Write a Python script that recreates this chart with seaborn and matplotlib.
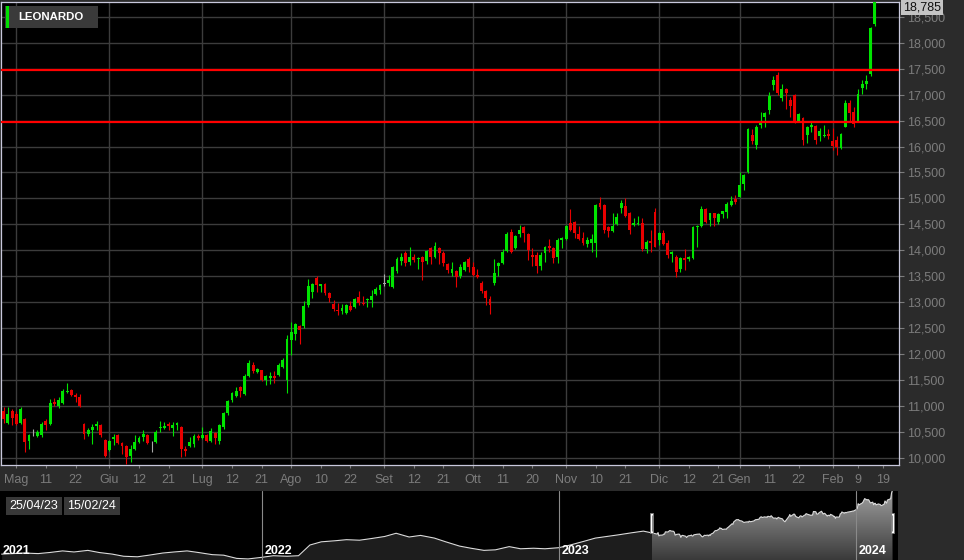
import numpy as np
import pandas as pd
import matplotlib
matplotlib.use("Agg")
import matplotlib.pyplot as plt
import matplotlib.dates as mdates
from matplotlib.patches import Rectangle
from matplotlib.colors import LinearSegmentedColormap
import seaborn as sns

# --- daily OHLC, Leonardo, 25/04/23 .. 15/02/24 ---
opens = [
    11.12, 10.91, 10.67, 10.91, 10.85, 10.67, 10.76, 10.32, 10.46, 10.43,
    10.44, 10.72, 10.65, 11.07, 11.00, 11.06, 11.28, 11.31, 11.21, 11.18,
    10.65, 10.46, 10.54, 10.61, 10.64, 10.35, 10.16, 10.37, 10.45, 10.28,
    10.24, 10.03, 10.17, 10.30, 10.41, 10.45, 10.32, 10.30, 10.57, 10.57,
    10.65, 10.58, 10.63, 10.60, 10.18, 10.24, 10.27, 10.43, 10.38, 10.45,
    10.32, 10.49, 10.33, 10.59, 10.87, 11.11, 11.19, 11.36, 11.23, 11.58,
    11.79, 11.66, 11.69, 11.51, 11.55, 11.58, 11.60, 11.76, 11.51, 12.28,
    12.38, 12.54, 12.54, 12.94, 13.20, 13.47, 13.31, 13.36, 13.18, 12.97,
    12.86, 12.83, 12.80, 12.92, 12.90, 13.11, 12.99, 13.04, 13.04, 13.16,
    13.23, 13.35, 13.38, 13.30, 13.61, 13.79, 13.95, 13.77, 13.87, 13.83,
    13.87, 13.79, 14.05, 13.87, 14.05, 13.95, 13.74, 13.56, 13.60, 13.51,
    13.62, 13.83, 13.67, 13.53, 13.38, 13.22, 13.06, 13.38, 13.70, 13.76,
    13.99, 14.36, 14.04, 14.31, 14.44, 14.31, 13.91, 13.91, 13.69, 13.94,
    14.08, 14.04, 13.87, 14.19, 14.21, 14.52, 14.55, 14.31, 14.23, 14.12,
    14.15, 14.15, 14.92, 14.87, 14.44, 14.38, 14.51, 14.81, 14.85, 14.71,
    14.49, 14.50, 14.52, 14.02, 14.18, 14.74, 14.20, 14.33, 14.15, 13.93,
    13.88, 13.65, 13.85, 13.83, 13.85, 14.44, 14.47, 14.79, 14.58, 14.71,
    14.55, 14.70, 14.74, 14.87, 14.98, 15.03, 15.28, 15.51, 16.22, 16.03,
    16.41, 16.56, 16.71, 17.18, 17.37, 16.94, 17.10, 16.89, 16.99, 16.49,
    16.54, 16.22, 16.37, 16.40, 16.20, 16.20, 16.24, 16.11, 16.13, 15.98,
    16.38, 16.84, 16.67, 16.49, 17.13, 17.21, 17.40, 18.35,
]
highs = [
    11.13, 10.99, 10.99, 10.94, 10.91, 10.99, 10.78, 10.46, 10.56, 10.53,
    10.70, 10.75, 11.13, 11.15, 11.17, 11.33, 11.45, 11.33, 11.26, 11.24,
    10.67, 10.58, 10.65, 10.72, 10.65, 10.37, 10.35, 10.46, 10.47, 10.30,
    10.25, 10.26, 10.45, 10.43, 10.53, 10.46, 10.33, 10.53, 10.72, 10.70,
    10.70, 10.69, 10.69, 10.62, 10.23, 10.41, 10.46, 10.46, 10.60, 10.46,
    10.58, 10.51, 10.65, 10.88, 11.12, 11.28, 11.37, 11.38, 11.62, 11.88,
    11.85, 11.74, 11.70, 11.60, 11.66, 11.67, 11.83, 11.92, 12.37, 12.62,
    12.60, 12.56, 13.03, 13.44, 13.37, 13.50, 13.36, 13.37, 13.19, 13.05,
    12.99, 12.97, 12.97, 13.03, 13.09, 13.21, 13.13, 13.08, 13.24, 13.30,
    13.36, 13.54, 13.53, 13.70, 13.87, 13.95, 13.98, 14.06, 13.92, 13.88,
    13.90, 14.00, 14.06, 14.17, 14.06, 13.98, 13.75, 13.77, 13.62, 13.74,
    13.80, 13.87, 13.78, 13.65, 13.40, 13.24, 13.12, 13.83, 13.78, 14.02,
    14.36, 14.42, 14.30, 14.49, 14.46, 14.33, 14.04, 13.96, 13.96, 14.08,
    14.21, 14.06, 14.23, 14.26, 14.49, 14.79, 14.56, 14.46, 14.36, 14.25,
    14.31, 14.89, 15.02, 14.89, 14.47, 14.72, 14.71, 14.96, 15.00, 14.74,
    14.63, 14.66, 14.62, 14.19, 14.39, 14.81, 14.36, 14.40, 14.19, 13.99,
    13.91, 13.87, 14.02, 13.89, 14.46, 14.49, 14.85, 14.81, 14.72, 14.72,
    14.71, 14.76, 14.94, 15.04, 15.06, 15.51, 15.48, 16.35, 16.33, 16.41,
    16.67, 16.67, 17.05, 17.35, 17.44, 17.20, 17.13, 16.96, 17.01, 16.65,
    16.57, 16.39, 16.47, 16.41, 16.35, 16.41, 16.33, 16.35, 16.20, 16.26,
    16.90, 16.89, 16.76, 17.10, 17.28, 17.37, 18.30, 18.80,
]
lows = [
    10.85, 10.67, 10.65, 10.64, 10.63, 10.65, 10.11, 10.17, 10.43, 10.40,
    10.40, 10.54, 10.63, 11.01, 10.96, 11.04, 11.26, 11.20, 11.07, 10.98,
    10.37, 10.43, 10.27, 10.54, 10.41, 10.01, 10.14, 10.26, 10.27, 10.08,
    9.88, 9.92, 10.15, 10.29, 10.33, 10.27, 10.11, 10.28, 10.51, 10.56,
    10.54, 10.43, 10.54, 10.01, 10.03, 10.22, 10.22, 10.34, 10.36, 10.30,
    10.30, 10.27, 10.27, 10.56, 10.82, 11.08, 11.17, 11.18, 11.21, 11.56,
    11.63, 11.63, 11.49, 11.40, 11.42, 11.44, 11.58, 11.74, 11.26, 11.99,
    12.27, 12.19, 12.51, 12.91, 13.09, 13.20, 13.20, 13.14, 13.00, 12.83,
    12.76, 12.77, 12.77, 12.83, 12.89, 12.95, 12.94, 12.90, 12.91, 13.14,
    13.15, 13.32, 13.32, 13.27, 13.56, 13.72, 13.70, 13.72, 13.77, 13.64,
    13.43, 13.74, 13.74, 13.85, 13.74, 13.70, 13.56, 13.50, 13.29, 13.46,
    13.60, 13.59, 13.51, 13.46, 13.17, 12.95, 12.78, 13.33, 13.51, 13.74,
    13.96, 13.94, 14.02, 14.26, 14.17, 13.81, 13.70, 13.57, 13.63, 13.78,
    13.97, 13.76, 13.75, 14.04, 14.20, 14.38, 14.23, 14.19, 14.10, 14.06,
    13.97, 13.87, 14.79, 14.34, 14.25, 14.36, 14.49, 14.71, 14.65, 14.31,
    14.47, 14.49, 13.99, 13.94, 13.97, 14.06, 14.10, 14.10, 13.85, 13.78,
    13.48, 13.59, 13.63, 13.80, 13.83, 14.07, 14.44, 14.53, 14.47, 14.47,
    14.50, 14.63, 14.63, 14.85, 14.89, 15.02, 15.17, 15.49, 16.05, 15.96,
    16.35, 16.37, 16.62, 17.08, 16.99, 16.88, 16.73, 16.57, 16.46, 16.47,
    16.03, 16.07, 16.28, 16.04, 16.11, 16.19, 16.15, 15.93, 15.83, 15.96,
    16.37, 16.47, 16.38, 16.47, 17.02, 17.10, 17.36, 18.33,
]
closes = [
    10.88, 10.76, 10.85, 10.78, 10.65, 10.94, 10.31, 10.44, 10.46, 10.50,
    10.65, 10.63, 11.06, 11.04, 11.12, 11.29, 11.30, 11.22, 11.17, 11.01,
    10.46, 10.54, 10.60, 10.65, 10.44, 10.03, 10.33, 10.41, 10.28, 10.24,
    10.01, 10.17, 10.31, 10.38, 10.47, 10.28, 10.32, 10.51, 10.59, 10.62,
    10.62, 10.64, 10.67, 10.17, 10.14, 10.30, 10.43, 10.39, 10.45, 10.32,
    10.52, 10.38, 10.63, 10.87, 11.10, 11.26, 11.30, 11.29, 11.58, 11.83,
    11.68, 11.72, 11.51, 11.58, 11.58, 11.55, 11.79, 11.88, 12.30, 12.43,
    12.58, 12.47, 12.92, 13.31, 13.35, 13.33, 13.35, 13.18, 13.09, 12.87,
    12.83, 12.88, 12.94, 12.86, 13.07, 12.99, 12.96, 13.07, 13.12, 13.26,
    13.34, 13.35, 13.43, 13.68, 13.83, 13.88, 13.75, 13.87, 13.81, 13.86,
    13.77, 13.98, 13.87, 14.09, 13.94, 13.75, 13.63, 13.65, 13.48, 13.67,
    13.78, 13.67, 13.53, 13.48, 13.22, 13.09, 12.95, 13.56, 13.76, 13.97,
    14.31, 13.96, 14.28, 14.40, 14.34, 14.01, 13.88, 13.69, 13.91, 14.06,
    14.04, 13.85, 14.19, 14.23, 14.47, 14.40, 14.34, 14.21, 14.15, 14.20,
    14.21, 14.87, 14.83, 14.40, 14.38, 14.46, 14.65, 14.92, 14.67, 14.39,
    14.52, 14.53, 14.02, 14.17, 14.15, 14.07, 14.34, 14.13, 13.91, 13.97,
    13.59, 13.85, 13.82, 13.87, 14.44, 14.47, 14.79, 14.55, 14.71, 14.62,
    14.70, 14.75, 14.89, 14.95, 14.94, 15.26, 15.45, 16.33, 16.11, 16.38,
    16.46, 16.65, 16.97, 17.28, 17.03, 17.10, 17.04, 16.78, 16.47, 16.62,
    16.13, 16.37, 16.41, 16.12, 16.29, 16.23, 16.20, 16.01, 15.99, 16.25,
    16.84, 16.65, 16.44, 17.01, 17.21, 17.26, 18.28, 18.785,
]

market_holidays = ["2023-05-01", "2023-08-15", "2023-12-25", "2023-12-26", "2024-01-01"]
levels = [17.47, 16.465]

tick_dates = ["2023-05-02", "2023-05-11", "2023-05-22", "2023-06-01", "2023-06-12",
              "2023-06-21", "2023-07-03", "2023-07-12", "2023-07-21", "2023-08-01",
              "2023-08-10", "2023-08-22", "2023-09-01", "2023-09-12", "2023-09-21",
              "2023-10-02", "2023-10-11", "2023-10-20", "2023-11-01", "2023-11-10",
              "2023-11-21", "2023-12-01", "2023-12-12", "2023-12-21", "2024-01-02",
              "2024-01-11", "2024-01-22", "2024-02-01", "2024-02-09", "2024-02-19"]
tick_labels = ["Mag", "11", "22", "Giu", "12", "21", "Lug", "12", "21", "Ago",
               "10", "22", "Set", "12", "21", "Ott", "11", "20", "Nov", "10",
               "21", "Dic", "12", "21", "Gen", "11", "22", "Feb", "9", "19"]
y_ticks = [10.0, 10.5, 11.0, 11.5, 12.0, 12.5, 13.0, 13.5, 14.0, 14.5,
           15.0, 15.5, 16.0, 16.5, 17.0, 17.5, 18.0, 18.5]

# navigator history before the visible window (half-monthly, approx.)
nav_hist_dates = [
    "2021-02-15", "2021-03-01", "2021-03-15", "2021-04-01", "2021-04-15", "2021-05-01",
    "2021-05-15", "2021-06-01", "2021-06-15", "2021-07-01", "2021-07-15", "2021-08-01",
    "2021-08-15", "2021-09-01", "2021-09-15", "2021-10-01", "2021-10-15", "2021-11-01",
    "2021-11-15", "2021-12-01", "2021-12-15", "2022-01-01", "2022-01-15", "2022-02-01",
    "2022-02-15", "2022-03-01", "2022-03-15", "2022-04-01", "2022-04-15", "2022-05-01",
    "2022-05-15", "2022-06-01", "2022-06-15", "2022-07-01", "2022-07-15", "2022-08-01",
    "2022-08-15", "2022-09-01", "2022-09-15", "2022-10-01", "2022-10-15", "2022-11-01",
    "2022-11-15", "2022-12-01", "2022-12-15", "2023-01-01", "2023-01-15", "2023-02-01",
    "2023-02-15", "2023-03-01", "2023-03-15", "2023-04-01", "2023-04-15",
]
nav_hist_values = [
    6.9, 7.0, 7.1, 7.0, 7.2, 7.5, 7.3, 7.6, 7.2, 6.9, 6.5, 6.4,
    6.7, 7.1, 7.3, 7.5, 7.2, 6.8, 6.7, 6.1, 6.0, 6.3, 6.6, 6.5,
    6.6, 8.6, 9.2, 9.4, 9.6, 9.5, 9.8, 10.2, 10.8, 10.1, 10.4, 9.9,
    9.2, 8.4, 8.0, 7.6, 7.7, 8.3, 7.9, 8.0, 7.9, 8.1, 8.6, 9.3,
    9.9, 10.2, 10.5, 10.9, 11.2,
]

assert len(opens) == len(highs) == len(lows) == len(closes) == 208

BG = "#2b2b2b"
GREEN = "#00e400"
RED = "#e80000"
GRID = "#3c3c3c"
FRAME = "#c8c8dc"
TXT = "#7c7c7c"
NARROW = ["Liberation Sans Narrow", "Liberation Sans", "DejaVu Sans"]

sns.set_theme(style="dark")
plt.rcParams['font.family'] = ['Liberation Sans', 'DejaVu Sans']

# trading calendar -> candle slot index
cal = pd.bdate_range("2023-04-25", "2024-02-23")
cal = cal[~cal.isin(pd.to_datetime(market_holidays))]
slot = {d: i for i, d in enumerate(cal)}
n = len(closes)
df = pd.DataFrame({
    "date": cal[:n], "pos": np.arange(n),
    "open": opens, "high": highs, "low": lows, "close": closes,
})
df["color"] = np.where(df.close > df.open, GREEN, np.where(df.close < df.open, RED, "#a8a8a8"))

fig = plt.figure(figsize=(9.64, 5.6), dpi=100, facecolor=BG)

# ---------------- main candlestick panel ----------------
ax = fig.add_axes([1 / 964, 95.5 / 560, 898 / 964, 463 / 560])
ax.set_facecolor("black")

ax.vlines(df.pos, df.low, df.high, colors=df.color, lw=0.8, zorder=3)
body = (df.close - df.open).abs().clip(lower=0.012)
ax.bar(df.pos, body, bottom=df[["open", "close"]].min(axis=1), width=0.68,
       color=df.color, linewidth=0, zorder=4)

for lv in levels:
    ax.axhline(lv, color="#ff0000", lw=1.6, zorder=5)

ax.set_xlim(0.38, 212.7)
ax.set_ylim(9.875, 18.793)

tick_pos = [slot[pd.Timestamp(d)] for d in tick_dates]
major = [(p, l) for p, l in zip(tick_pos, tick_labels) if not l.isdigit()]
minor = [(p, l) for p, l in zip(tick_pos, tick_labels) if l.isdigit()]
ax.set_xticks([p for p, _ in major], [l for _, l in major])
ax.set_xticks([p for p, _ in minor], [l for _, l in minor], minor=True)

ax.yaxis.tick_right()
ax.set_yticks(y_ticks, [f"{v:.3f}".replace(".", ",") for v in y_ticks])

ax.grid(True, which="major", color=GRID, lw=1.0, zorder=0)
ax.grid(False, which="minor")
for which in ("major", "minor"):
    ax.tick_params(axis="x", which=which, length=2.5, width=0.8, color=TXT, pad=4,
                   labelsize=9, labelcolor=TXT, bottom=True)
ax.tick_params(axis="y", length=3.5, width=0.8, color=TXT, pad=2, labelsize=9,
               labelcolor=TXT, right=True)
for lab in ax.get_xticklabels(which="both"):
    lab.set_family(NARROW)
for s in ax.spines.values():
    s.set_visible(True)
    s.set_color(FRAME)
    s.set_linewidth(0.9)

last = closes[-1]
ax.annotate(f"{last:.3f}".replace(".", ","), xy=(1, last), xycoords=("axes fraction", "data"),
            xytext=(3, -4), textcoords="offset points", va="center", ha="left",
            fontsize=9, color="#111111",
            bbox=dict(boxstyle="square,pad=0.15", fc="#c4c4c4", ec="none"),
            annotation_clip=False)

# legend chip
fig.patches.append(Rectangle((5 / 964, 1 - 28 / 560), 93 / 964, 22 / 560,
                             transform=fig.transFigure, fc="#3a3a3a", ec="none", zorder=10))
fig.patches.append(Rectangle((6 / 964, 1 - 28 / 560), 2.6 / 964, 22 / 560,
                             transform=fig.transFigure, fc="#00e000", ec="none", zorder=11))
fig.text(18 / 964, 1 - 17.5 / 560, "LEONARDO", color="white", fontsize=8.2,
         fontweight="bold", va="center", ha="left", zorder=12)

# ---------------- navigator ----------------
nav = fig.add_axes([0, 0, 898 / 964, 69.5 / 560])
nav.set_facecolor("black")
nav_df = pd.concat([
    pd.DataFrame({"date": pd.to_datetime(nav_hist_dates), "value": nav_hist_values}),
    df[["date", "close"]].rename(columns={"close": "value"}),
], ignore_index=True)

y0, y1 = 5.8, 18.8
nav.fill_between(nav_df.date, nav_df.value, y0, color="#1d1d1d", lw=0, zorder=1)

sel = nav_df[nav_df.date >= df.date.iloc[0]]
poly = nav.fill_between(sel.date, sel.value, y0, color="none", lw=0)
grad = np.linspace(1, 0, 256).reshape(-1, 1)
cmap = LinearSegmentedColormap.from_list("nav", ["#3a3a3a", "#a0a0a0"])
im = nav.imshow(grad, cmap=cmap, aspect="auto", origin="upper", zorder=2,
                extent=[mdates.date2num(sel.date.iloc[0]), mdates.date2num(sel.date.iloc[-1]), y0, y1])
im.set_clip_path(poly.get_paths()[0], transform=nav.transData)

sns.lineplot(data=nav_df, x="date", y="value", ax=nav, color="#dcdcdc", lw=0.8, zorder=3)

nav.set_xlim(mdates.date2num(pd.Timestamp("2021-02-13")), mdates.date2num(pd.Timestamp("2024-02-22")))
nav.set_ylim(y0, y1)
nav.set_xticks([])
nav.set_yticks([])
nav.set_xlabel("")
nav.set_ylabel("")
nav.grid(False)
for s in nav.spines.values():
    s.set_visible(False)

for yr in ["2022-01-01", "2023-01-01", "2024-01-01"]:
    nav.axvline(pd.Timestamp(yr), color="#8a8a8a", lw=0.8, zorder=4)
for yr, xpos in [("2021", pd.Timestamp("2021-02-13")), ("2022", pd.Timestamp("2022-01-01")),
                 ("2023", pd.Timestamp("2023-01-01")), ("2024", pd.Timestamp("2024-01-01"))]:
    nav.annotate(yr, xy=(xpos, 0), xycoords=("data", "axes fraction"), xytext=(2, 2),
                 textcoords="offset points", color="white", fontsize=9, fontweight="bold",
                 ha="left", va="bottom", zorder=6, family=NARROW)

# selection handles
for d in (df.date.iloc[0], df.date.iloc[-1]):
    xd = mdates.date2num(d)
    nav.add_patch(Rectangle((xd - 2, 0.39), 4, 0.29, transform=nav.get_xaxis_transform(),
                            fc="white", ec="#777777", lw=0.6, zorder=7, clip_on=False))
    nav.vlines(xd, 0.42, 0.65, transform=nav.get_xaxis_transform(), color="#777777", lw=0.6, zorder=8)

# date range chips
for x0, w, label in [(6, 56, df.date.iloc[0].strftime("%d/%m/%y")),
                     (64, 56, df.date.iloc[-1].strftime("%d/%m/%y"))]:
    fig.patches.append(Rectangle((x0 / 964, 1 - 515 / 560), w / 964, 18 / 560,
                                 transform=fig.transFigure, fc="#383838", ec="none", zorder=10))
    fig.text((x0 + w / 2) / 964, 1 - 506 / 560, label, color="white", fontsize=9,
             ha="center", va="center", zorder=11, family=NARROW)

fig.savefig("out.png", dpi=100, facecolor=BG)
